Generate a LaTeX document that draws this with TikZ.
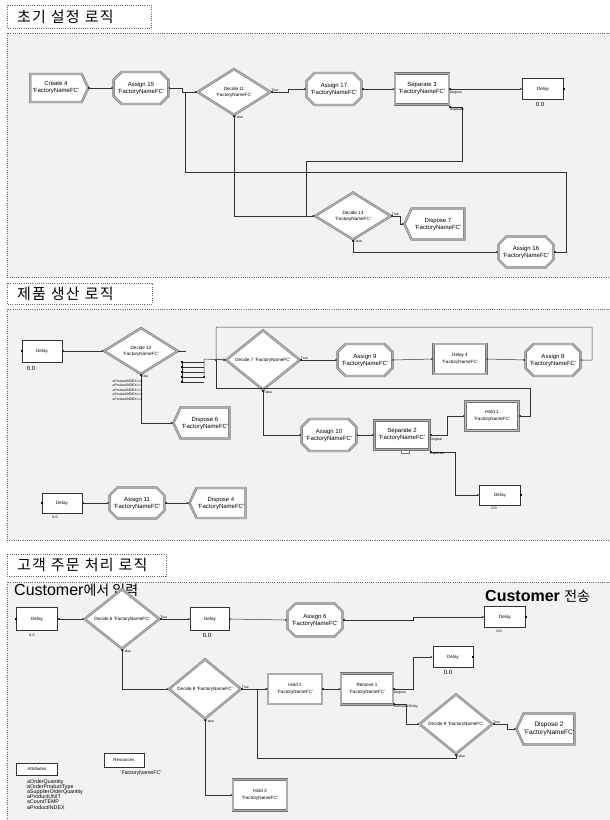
\documentclass[tikz,border=0pt]{standalone}
\usepackage{fontspec}
\setmainfont{Liberation Sans}
\newfontfamily\cjk{Noto Sans CJK KR}
\newfontfamily\cjkt[LetterSpace=8]{Noto Sans CJK KR}
\usetikzlibrary{shapes.geometric,shapes.misc,shapes.symbols,arrows.meta}
\newcommand\fsz[2]{\fontsize{#1}{#2}\selectfont}
\tikzset{
  frame/.style={draw=black!60, line width=0.6pt, dash pattern=on 0.8pt off 1.4pt},
  dbl/.style={draw=black!55, double=black!32, double distance=1.6pt, line width=0.4pt, fill=white},
  modtext/.style={align=center, inner sep=0pt, font=\fsz{6}{7}},
  assignbox/.style={dbl, modtext, chamfered rectangle, chamfered rectangle xsep=4pt, chamfered rectangle ysep=4pt},
  decidebox/.style={dbl, diamond, inner sep=0pt, align=center, font=\fsz{4.6}{5.8}},
  createbox/.style={dbl, modtext, signal, signal to=east, signal pointer angle=130},
  disposebox/.style={dbl, modtext, signal, signal to=west, signal pointer angle=130},
  rectbox/.style={dbl, modtext, rectangle},
  delaybox/.style={draw=black!80, line width=0.5pt, fill=white, rectangle, inner sep=0pt, font=\fsz{4.6}{5.6}},
  conn/.style={draw=black!80, line width=0.5pt, arrows={Square[length=1.4pt,width=1.4pt]-Stealth[length=2.4pt,width=2pt]}},
  plain/.style={draw=black!80, line width=0.5pt},
  lbl/.style={inner sep=0.5pt, font=\fsz{3.4}{4}},
  val/.style={inner sep=0pt, font=\fsz{6}{7}},
  sval/.style={inner sep=0pt, font=\fsz{3.6}{4}},
  ttl/.style={anchor=west, inner sep=0pt, font=\cjkt\fsz{15}{15}},
}
\begin{document}
\begin{tikzpicture}[x=1pt,y=-1pt]
\useasboundingbox (0,0) rectangle (610,820);
\fill[white] (0,0) rectangle (610,820);
% ---------- section frames ----------
\draw[frame, fill=black!5] (625,33) -- (7,33) -- (7,277) -- (625,277);
\draw[frame, fill=white] (7,5) rectangle (151,28);
\node[ttl] (t1) at (17,17) {초기\hspace{5pt}설정\hspace{5pt}로직};
\draw[frame, fill=black!5] (625,309) -- (7,309) -- (7,540) -- (625,540);
\draw[frame, fill=white] (7,283) rectangle (152,304);
\node[ttl] (t2) at (17,294) {제품\hspace{5pt}생산\hspace{5pt}로직};
\draw[frame, fill=black!5] (625,582) -- (7,582) -- (7,830) -- (625,830);
\draw[frame, fill=white] (7,554) rectangle (166,576);
\node[ttl] (t3) at (17,565) {고객\hspace{5pt}주문\hspace{5pt}처리\hspace{5pt}로직};

% ---------- section 1 ----------
\node[createbox, minimum width=58pt, minimum height=28pt] (c4) at (56,88) {Create 4\\'FactoryNameFC'};
\node[assignbox, minimum width=54pt, minimum height=32pt] (a15) at (141,88) {Assign 15\\'FactoryNameFC'};
\node[decidebox, minimum width=73pt, minimum height=46pt] (d11) at (234,92) {Decide 11\\'FactoryNameFC'};
\node[assignbox, minimum width=55pt, minimum height=32pt] (a17) at (334,89) {Assign 17\\'FactoryNameFC'};
\node[rectbox, minimum width=54pt, minimum height=31pt] (s3) at (422,89) {Separate 3\\'FactoryNameFC'};
\node[delaybox, minimum width=41pt, minimum height=21pt] (dl1) at (543,89) {Delay};
\node[val] (v1) at (540,104) {0.0};
\node[decidebox, minimum width=76pt, minimum height=47pt] (d13) at (353,216) {Decide 13\\'FactoryNameFC'};
\node[disposebox, minimum width=60pt, minimum height=31pt] (dp7) at (438,224) {Dispose 7\\'FactoryNameFC'};
\node[assignbox, minimum width=55pt, minimum height=31pt] (a16) at (526,252) {Assign 16\\'FactoryNameFC'};

\draw[conn] (c4.east) -- (a15.west);
\draw[conn] (a15.east) -| (182,92) -- (d11.west);
\draw[conn] (a16.east) -| (566,172) -| (185,92) -- (d11.west);
\draw[conn] (d11.east) -- (288,92) |- (a17.west);
\draw[conn] (a17.east) -- (s3.west);
\draw[conn] (s3.east) -- (dl1.west);
\draw[conn] ([yshift=-18pt]s3.east) -| (462,161) -| (306,216) -- (d13.west);
\draw[conn] (d11.south) |- (d13.west);
\draw[conn] (d13.east) -- (400,216) |- (dp7.west);
\draw[conn] (d13.south) |- (a16.west);
\fill[black] (dl1.east) ++(-0.8,-0.8) rectangle ++(1.6,1.6);
\node[lbl, anchor=south west] (d11t) at (d11.east) {True};
\node[lbl, anchor=north west] (d11f) at (d11.south) {False};
\node[lbl, anchor=north west] (s3o) at ([yshift=-1pt]s3.east) {Original};
\node[lbl, anchor=north west] (s3d) at ([yshift=-18pt]s3.east) {Duplicate};
\node[lbl, anchor=south west] (d13t) at (d13.east) {True};
\node[lbl, anchor=north west] (d13f) at (d13.south) {False};

% ---------- section 2 ----------
\node[delaybox, minimum width=40pt, minimum height=22pt] (dl2) at (42,351) {Delay};
\node[val] (v2) at (31,368) {0.0};
\node[decidebox, minimum width=74pt, minimum height=46pt] (d12) at (141,351) {Decide 12\\'FactoryNameFC'};
\node[decidebox, minimum width=74pt, minimum height=49pt] (d7) at (263,360) {Decide 7 'FactoryNameFC'};
\node[assignbox, minimum width=54pt, minimum height=32pt] (a9) at (365,360) {Assign 9\\'FactoryNameFC'};
\node[rectbox, minimum width=53pt, minimum height=30pt, font=\fsz{4.6}{6.5}] (dy4) at (460,359) {Delay 4\\'FactoryNameFC'};
\node[assignbox, minimum width=54pt, minimum height=32pt] (a8) at (553,360) {Assign 8\\'FactoryNameFC'};
\node[assignbox, minimum width=54pt, minimum height=32pt] (a10) at (329,435) {Assign 10\\'FactoryNameFC'};
\node[rectbox, minimum width=55pt, minimum height=29pt] (s2) at (402,435) {Separate 2\\'FactoryNameFC'};
\node[draw=black!55, fill=white, line width=0.4pt, minimum width=8pt, minimum height=3pt, inner sep=0pt] (s2n) at (405,451.5) {};
\node[rectbox, minimum width=53pt, minimum height=29pt, font=\fsz{4.6}{6.5}, double=black!22] (h1) at (492,416) {Hold 1\\'FactoryNameFC'};
\node[delaybox, minimum width=41pt, minimum height=20pt] (dl3) at (500,495) {Delay};
\node[sval] (v3) at (494,508) {0.0};
\node[disposebox, minimum width=56pt, minimum height=31pt] (dp6) at (205,423) {Dispose 6\\'FactoryNameFC'};
\node[delaybox, minimum width=40pt, minimum height=20pt] (dl4) at (62,503) {Delay};
\node[sval] (v4) at (55,517) {0.0};
\node[assignbox, minimum width=55pt, minimum height=31pt] (a11) at (137,503) {Assign 11\\'FactoryNameFC'};
\node[disposebox, minimum width=56pt, minimum height=30pt] (dp4) at (221,503) {Dispose 4\\'FactoryNameFC'};

\draw[conn] (dl2.east) -- (d12.west);
\coordinate (d12o) at (186,351);
\draw[plain] (d12.east) -- (d12o);
\draw[plain] (182,362) -- (182,383);
\foreach \yy in {362,367,372,377,382} {
  \draw[plain] (182,\yy) -- (204,\yy);
  \fill[black] (181.2,\yy-0.8) rectangle ++(1.6,1.6);
}
\draw[conn] (204,377) -- (204,359) -- (d7.west);
\draw[conn] (a8.east) -| (592,327) -| (216,359) -- (d7.west);
\draw[conn] (h1.east) -| (530,388) -| (216,359);
\draw[conn] (d7.east) -- (a9.west);
\draw[conn] (a9.east) -- (dy4.west);
\draw[conn] (dy4.east) -- (a8.west);
\draw[conn] (d7.south) |- (a10.west);
\draw[conn] (a10.east) -- (s2.west);
\draw[conn] (s2.east) -| (447,416) -- (h1.west);
\draw[conn] ([yshift=-17pt]s2.east) -| (455,495) -- (dl3.west);
\draw[conn] (d12.south) |- (dp6.west);
\draw[conn] (dl4.east) -- (a11.west);
\draw[conn] (a11.east) -- (dp4.west);
\fill[black] (dl3.east) ++(-0.8,-0.8) rectangle ++(1.6,1.6);
\fill[black] (dl2.west) ++(-0.8,-0.8) rectangle ++(1.6,1.6);
\fill[black] (dl4.west) ++(-0.8,-0.8) rectangle ++(1.6,1.6);
\node[lbl, anchor=south west] (d7t) at (d7.east) {True};
\node[lbl, anchor=north west] (d7f) at (d7.south) {False};
\node[lbl, anchor=north west] (d12e) at (d12.south) {Else};
\node[lbl, anchor=north west, align=left, font=\fsz{3.4}{4.5}] (d12c) at (112,379)
  {aProductINDEX==0\\aProductINDEX==1\\aProductINDEX==2\\aProductINDEX==3\\aProductINDEX==4};
\node[lbl, anchor=north west] (s2o) at ([yshift=-2pt]s2.east) {Original};
\node[lbl, anchor=north west] (s2d) at ([yshift=-16pt]s2.east) {Duplicate};

% ---------- section 3 ----------
\node[anchor=west, inner sep=0pt] (cin) at (14,590) {\fsz{16}{16}Customer\cjk\fsz{14}{14}에서 입력};
\node[anchor=west, inner sep=0pt] (cout) at (485,596) {\fsz{16}{16}\bfseries Customer \cjk\fsz{14}{14}\mdseries 전송};
\node[delaybox, minimum width=41pt, minimum height=23pt] (dl5) at (37,619) {Delay};
\node[sval] (v5) at (32,635) {0.0};
\node[decidebox, minimum width=75pt, minimum height=44pt] (d6) at (122,619) {Decide 6 'FactoryNameFC'};
\node[delaybox, minimum width=39pt, minimum height=23pt] (dl6) at (210,619) {Delay};
\node[val] (v6) at (207,635) {0.0};
\node[assignbox, minimum width=55pt, minimum height=33pt] (a6) at (315,620) {Assign 6\\'FactoryNameFC'};
\node[delaybox, minimum width=41pt, minimum height=21pt] (dl7) at (505,617) {Delay};
\node[sval] (v7) at (499,631) {0.0};
\node[decidebox, minimum width=72pt, minimum height=47pt] (d8) at (205,689) {Decide 8 'FactoryNameFC'};
\node[rectbox, minimum width=54pt, minimum height=30pt, font=\fsz{4.6}{6.5}] (h2) at (295,689) {Hold 2\\'FactoryNameFC'};
\node[rectbox, minimum width=52pt, minimum height=31pt, font=\fsz{4.6}{6.5}] (r1) at (367,689) {Remove 1\\'FactoryNameFC'};
\node[delaybox, minimum width=40pt, minimum height=21pt] (dl8) at (453,657) {Delay};
\node[val] (v8) at (448,672) {0.0};
\node[decidebox, minimum width=73pt, minimum height=46pt] (d9) at (456,724) {Decide 9 'FactoryNameFC'};
\node[disposebox, minimum width=58pt, minimum height=31pt, font=\fsz{6.5}{7.5}] (dp2) at (549,729) {Dispose 2\\'FactoryNameFC'};
\node[rectbox, minimum width=54pt, minimum height=31pt, font=\fsz{4.6}{6.5}] (h3) at (260,795) {Hold 3\\'FactoryNameFC'};
\node[delaybox, minimum width=41pt, minimum height=12pt, font=\fsz{4.4}{5}] (att) at (37,769) {Attributes};
\node[anchor=north west, inner sep=0pt, align=left, font=\fsz{5.3}{5.2}] (attl) at (27,779)
  {aOrderQuantity\\aOrderProductType\\aSupplierOrderQuantity\\aProductUNIT\\aCountTEMP\\aProductINDEX};
\node[delaybox, minimum width=40pt, minimum height=14pt, font=\fsz{4.4}{5}] (res) at (124,760) {Resources};
\node[inner sep=0pt, font=\fsz{5.3}{6}] (resl) at (141,773) {'FactoryNameFC'};

\draw[conn] (dl5.east) -- (d6.west);
\draw[conn] (d6.east) -- (dl6.west);
\draw[conn] (dl6.east) -- (a6.west);
\draw[conn] (a6.east) -- (413,620) |- (dl7.west);
\draw[conn] (d6.south) |- (d8.west);
\draw[conn] (d8.east) -- (h2.west);
\draw[conn] (d9.south) |- (257,758) |- (h2.west);
\draw[conn] (h2.east) -- (r1.west);
\draw[conn] (r1.east) -| (413,657) -- (dl8.west);
\draw[conn] ([yshift=-15pt]r1.east) -| (406,724) -- (d9.west);
\draw[conn] (d9.east) -- (507,724) |- (dp2.west);
\draw[conn] (d8.south) |- (h3.west);
\fill[black] (dl5.west) ++(-0.8,-0.8) rectangle ++(1.6,1.6);
\fill[black] (dl7.east) ++(-0.8,-0.8) rectangle ++(1.6,1.6);
\fill[black] (dl8.east) ++(-0.8,-0.8) rectangle ++(1.6,1.6);
\node[lbl, anchor=south west] (d6t) at (d6.east) {True};
\node[lbl, anchor=north west] (d6f) at (d6.south) {False};
\node[lbl, anchor=south west] (d8t) at (d8.east) {True};
\node[lbl, anchor=north west] (d8f) at (d8.south) {False};
\node[lbl, anchor=north west] (r1o) at ([yshift=-1pt]r1.east) {Original};
\node[lbl, anchor=north west] (r1r) at ([yshift=-15pt]r1.east) {Removed Entity};
\node[lbl, anchor=south west] (d9t) at (d9.east) {True};
\node[lbl, anchor=north west] (d9f) at (d9.south) {False};
\end{tikzpicture}
\end{document}
